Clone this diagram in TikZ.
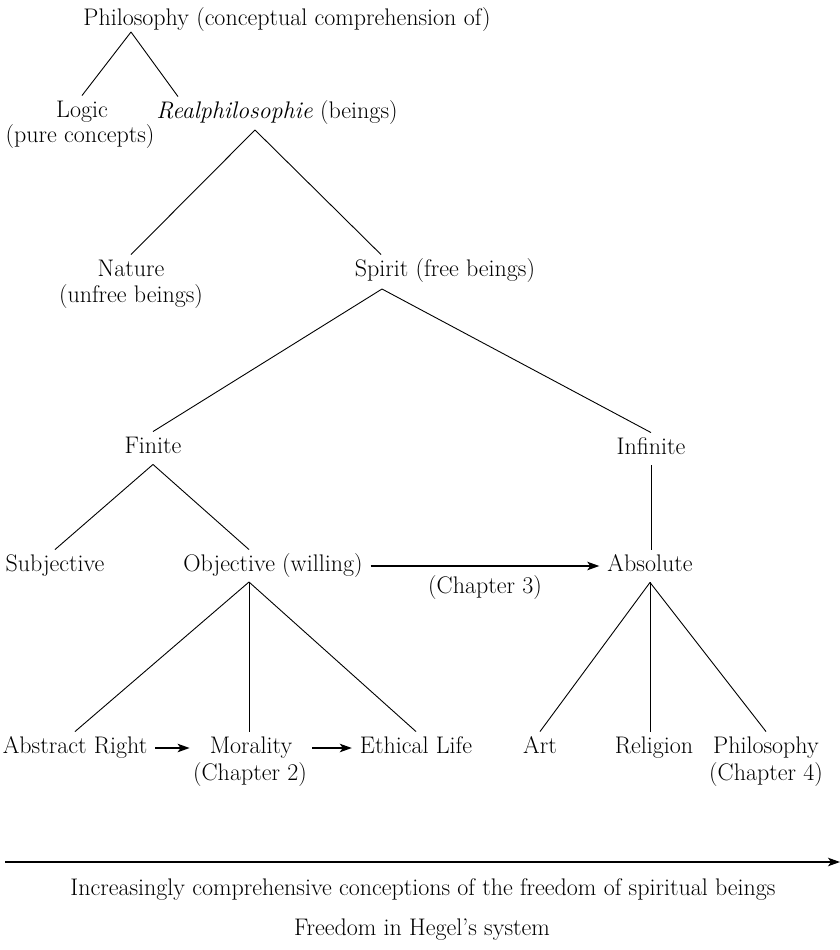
\documentclass[tikz,border=0pt]{standalone}
\usetikzlibrary{arrows.meta}
\tikzstyle{term}=[inner xsep=8pt, inner ysep=5pt, text height=16.5pt, text depth=6pt]
\tikzstyle{branch}=[-, line width=0.9pt]
\tikzstyle{edge}=[-{Stealth[length=12pt,width=8.5pt,inset=3pt]}, line width=1.3pt]

\begin{document}
\begin{tikzpicture}[x=1pt, y=-1pt, font=\fontsize{24}{26}\selectfont]
			\useasboundingbox (0,0) rectangle (840,950);

			%The root and its parts
			\draw (287,20) node[term] (phil) {Philosophy (conceptual comprehension of)};
			\draw (82,112) node[term] (logic) {Logic};
			\draw (80,137) node[term] (logic-note) {(pure concepts)};
			\draw (277,113) node[term] (real) {\textit{Realphilosophie} (beings)};

			%Nature and Spirit
			\draw (131,271) node[term] (nature) {Nature};
			\draw (131,297) node[term] (nature-note) {(unfree beings)};
			\draw (445,271) node[term] (spirit) {Spirit (free beings)};

			%Finite and Infinite
			\draw (153,448) node[term] (finite) {Finite};
			\draw (651,449) node[term] (infinite) {Infinite};

			%The third row
			\draw (55,566) node[term] (subj) {Subjective};
			\draw (273,566) node[term] (obj) {Objective (willing)};
			\draw (650,566) node[term] (absolute) {Absolute};
			\draw (485,588) node[term] (ch3) {(Chapter 3)};

			%The leaves
			\draw (75,748) node[term] (abstract) {Abstract Right};
			\draw (251,748) node[term] (morality) {Morality};
			\draw (250,775) node[term] (morality-note) {(Chapter 2)};
			\draw (416,748) node[term] (ethical) {Ethical Life};
			\draw (540,748) node[term] (art) {Art};
			\draw (654,748) node[term] (religion) {Religion};
			\draw (766,748) node[term] (philo) {Philosophy};
			\draw (766,775) node[term] (philo-note) {(Chapter 4)};

			%The forks
			\coordinate (phil-fork) at (131,32);
			\coordinate (real-fork) at (255,130);
			\coordinate (spirit-fork) at (382,289);
			\coordinate (obj-fork) at (249,582);

			\draw[branch] (phil-fork) -- (logic.north);
			\draw[branch] (phil-fork) -- ([xshift=-99pt]real.north);
			\draw[branch] (real-fork) -- (nature.north);
			\draw[branch] (real-fork) -- ([xshift=-64pt]spirit.north);
			\draw[branch] (spirit-fork) -- (finite.north);
			\draw[branch] (spirit-fork) -- (infinite.north);
			\draw[branch] (finite.south) -- (subj.north);
			\draw[branch] (finite.south) -- ([xshift=-24pt]obj.north);
			\draw[branch] (infinite.south) -- (infinite.south |- absolute.north);
			\draw[branch] (obj-fork) -- (abstract.north);
			\draw[branch] (obj-fork) -- (obj-fork |- morality.north);
			\draw[branch] (obj-fork) -- (ethical.north);
			\draw[branch] (absolute.south) -- (art.north);
			\draw[branch] (absolute.south) -- (absolute.south |- religion.north);
			\draw[branch] (absolute.south) -- (philo.north);

			%The arrows
			\draw[edge] (obj.east) -- (absolute.west);
			\draw[edge] (abstract.east) -- ([xshift=-12pt]morality.west);
			\draw[edge] ([xshift=12pt]morality.east) -- (ethical.west);

			%The axis and the caption
			\coordinate (axis-start) at (5,862);
			\coordinate (axis-end) at (840,862);
			\draw[edge] (axis-start) -- (axis-end);
			\draw (423,890) node[term] (caption) {Increasingly comprehensive conceptions of the freedom of spiritual beings};
			\draw (422,930) node[term] (title) {Freedom in Hegel’s system};
		\end{tikzpicture}
\end{document}
